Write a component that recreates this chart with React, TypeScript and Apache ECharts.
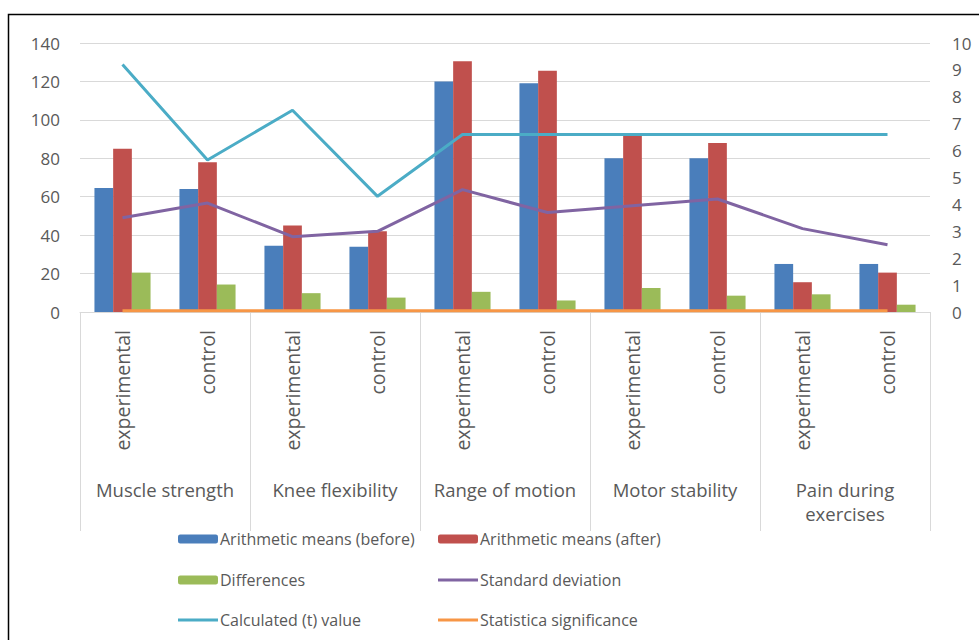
import React, { useEffect, useRef } from "react";
import * as echarts from "echarts";

const subCategories = [
  "experimental", "control", "experimental", "control", "experimental",
  "control", "experimental", "control", "experimental", "control",
];
const groups = ["Muscle strength", "Knee flexibility", "Range of motion", "Motor stability", "Pain during\nexercises"];

const meansBefore = [64.5, 64, 34.5, 34, 120, 119, 80, 80, 25, 25];
const meansAfter = [85, 78, 45, 42, 130.5, 125.5, 92, 88, 15.5, 20.5];
const differences = [20.5, 14.3, 9.8, 7.5, 10.5, 6, 12.5, 8.5, 9.2, 3.8];
const stdDeviation = [3.5, 4.05, 2.8, 3.0, 4.55, 3.7, 3.95, 4.2, 3.1, 2.5];
const tValue = [9.2, 5.65, 7.5, 4.3, 6.6, 6.6, 6.6, 6.6, 6.6, 6.6];
const significance = [0.05, 0.05, 0.05, 0.05, 0.05, 0.05, 0.05, 0.05, 0.05, 0.05];

const leftTicks = { min: 0, max: 140, interval: 20 };
const rightTicks = { min: 0, max: 10, interval: 1 };

const FONT = "Open Sans";
const TXT = "#595959";

export default function App() {
  const ref = useRef<HTMLDivElement>(null);
  useEffect(() => {
    if (!ref.current) return;
    const chart = echarts.init(ref.current, undefined, { renderer: "svg" });
    const legendCommon = {
      orient: "horizontal",
      padding: 0,
      itemGap: 0,
      itemWidth: 40,
      selectedMode: false,
      textStyle: { fontFamily: FONT, fontSize: 16, color: TXT, padding: [0, 0, 0, -3] },
    };
    chart.setOption({
      animation: false,
      textStyle: { fontFamily: FONT },
      grid: { left: 80, right: 49, top: 43, height: 269, containLabel: false },
      graphic: [
        {
          type: "rect",
          shape: { x: 8.5, y: 14.5, width: 1000, height: 700 },
          style: { fill: "none", stroke: "#000", lineWidth: 1.5 },
          silent: true,
        },
      ],
      legend: [
        { ...legendCommon, left: 178, top: 531, itemHeight: 9, data: ["Arithmetic means (before)"] },
        { ...legendCommon, left: 438, top: 531, itemHeight: 9, data: ["Arithmetic means (after)"] },
        { ...legendCommon, left: 178, top: 572, itemHeight: 9, data: ["Differences"] },
        { ...legendCommon, left: 438, top: 572, itemHeight: 3, icon: "rect", data: ["Standard deviation"] },
        { ...legendCommon, left: 178, top: 612, itemHeight: 3, icon: "rect", data: ["Calculated (t) value"] },
        { ...legendCommon, left: 438, top: 612, itemHeight: 3, icon: "rect", data: ["Statistica significance"] },
      ],
      xAxis: [
        {
          type: "category",
          data: subCategories,
          position: "bottom",
          axisLine: { show: true, lineStyle: { color: "#D9D9D9", width: 1 } },
          axisTick: { show: false },
          axisLabel: { rotate: 90, margin: 18, fontSize: 19.5, color: TXT, fontFamily: FONT, interval: 0 },
        },
        {
          type: "category",
          data: groups,
          position: "bottom",
          axisLine: { show: false },
          axisTick: { show: true, length: 219, lineStyle: { color: "#D9D9D9", width: 1 }, interval: 0 },
          axisLabel: { margin: 165, fontSize: 18.5, color: TXT, fontFamily: FONT, interval: 0, lineHeight: 24 },
        },
      ],
      yAxis: [
        {
          type: "value",
          ...leftTicks,
          axisLine: { show: false },
          axisTick: { show: false },
          splitLine: { lineStyle: { color: "#D9D9D9" } },
          axisLabel: { fontSize: 17, color: TXT, margin: 20, fontFamily: FONT },
        },
        {
          type: "value",
          ...rightTicks,
          position: "right",
          axisLine: { show: false },
          axisTick: { show: false },
          splitLine: { show: false },
          axisLabel: { fontSize: 17, color: TXT, margin: 22, fontFamily: FONT },
        },
      ],
      series: [
        { name: "Arithmetic means (before)", type: "bar", data: meansBefore, itemStyle: { color: "#4A7EBB" }, barGap: "0%", barCategoryGap: "34%" },
        { name: "Arithmetic means (after)", type: "bar", data: meansAfter, itemStyle: { color: "#C0504D" } },
        { name: "Differences", type: "bar", data: differences, itemStyle: { color: "#9BBB59" } },
        { name: "Standard deviation", type: "line", yAxisIndex: 1, data: stdDeviation, symbol: "none", lineStyle: { color: "#8064A2", width: 3 }, itemStyle: { color: "#8064A2" } },
        { name: "Calculated (t) value", type: "line", yAxisIndex: 1, data: tValue, symbol: "none", lineStyle: { color: "#4BACC6", width: 3 }, itemStyle: { color: "#4BACC6" } },
        { name: "Statistica significance", type: "line", yAxisIndex: 1, data: significance, symbol: "none", lineStyle: { color: "#F79646", width: 3 }, itemStyle: { color: "#F79646" } },
      ],
    });
    return () => chart.dispose();
  }, []);
  return (
    <div
      ref={ref}
      style={{ position: "absolute", left: 0, top: 0, width: 979, height: 640, background: "#fff" }}
    />
  );
}
